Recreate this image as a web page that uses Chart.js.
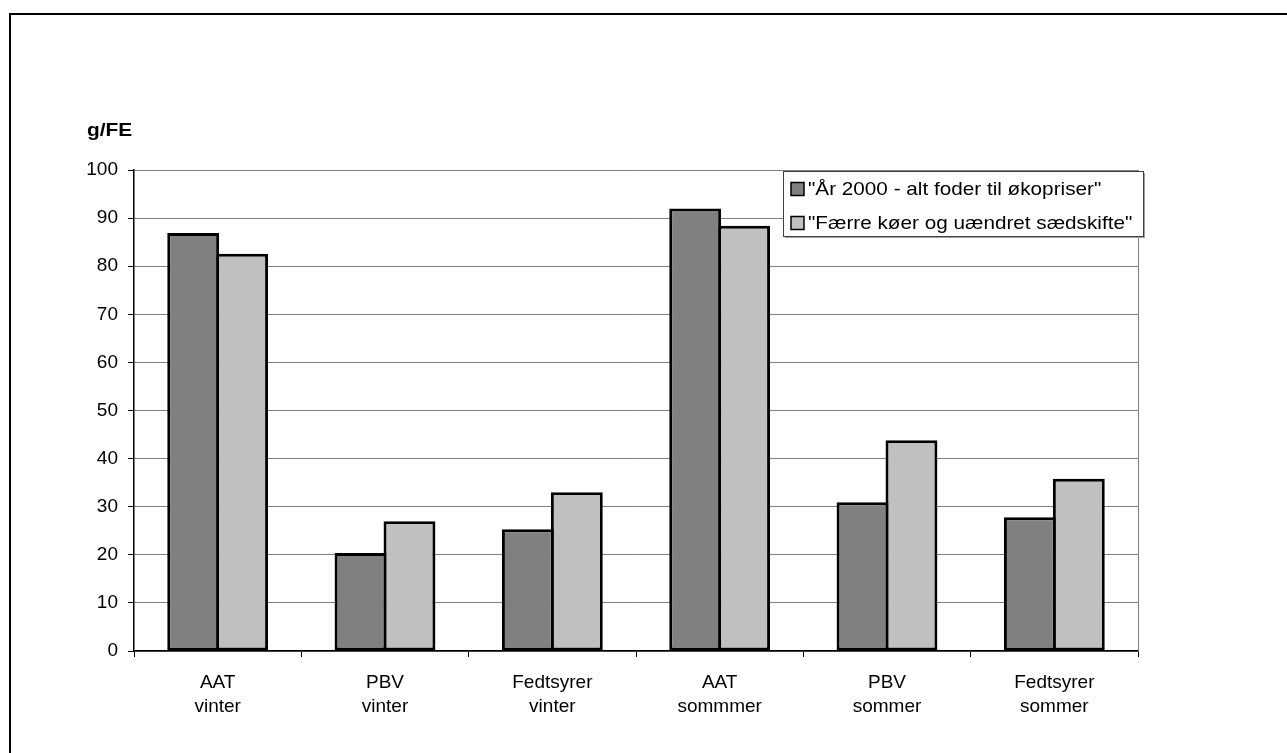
<!DOCTYPE html>
<html>
<head>
<meta charset="utf-8">
<script src="https://cdn.jsdelivr.net/npm/chart.js@4/dist/chart.umd.min.js"></script>
<style>
  html, body { margin: 0; padding: 0; background: #fff; }
  canvas { display: block; }
</style>
</head>
<body>
<canvas id="chart" width="1287" height="753"></canvas>
<script>
// categories (two-line labels) and the two scenarios
const categories = [
  ['AAT', 'vinter'],
  ['PBV', 'vinter'],
  ['Fedtsyrer', 'vinter'],
  ['AAT', 'sommmer'],
  ['PBV', 'sommer'],
  ['Fedtsyrer', 'sommer'],
];
const seriesNames = [
  '"År 2000 - alt foder til økopriser"',
  '"Færre køer og uændret sædskifte"',
];
const ar2000 = [86.9, 20.4, 25.3, 92.0, 30.9, 27.8];
const faerreKoer = [82.6, 27.0, 33.0, 88.4, 43.8, 35.8];
const yTicks = [0, 10, 20, 30, 40, 50, 60, 70, 80, 90, 100];
const unitLabel = 'g/FE';

const FONT = '"Liberation Sans", Arial, sans-serif';

// outer frame, unit label, right border of plot and the legend box
const decorations = {
  id: 'decorations',
  beforeDraw(chart) {
    const ctx = chart.ctx;
    ctx.save();
    ctx.fillStyle = '#fff';
    ctx.fillRect(0, 0, chart.width, chart.height);
    ctx.restore();
  },
  afterDatasetsDraw(chart) {
    const ctx = chart.ctx;
    const area = chart.chartArea;
    ctx.save();
    // right edge of plot area
    ctx.strokeStyle = '#808080';
    ctx.lineWidth = 1;
    ctx.beginPath();
    ctx.moveTo(area.right + 0.5, area.top);
    ctx.lineTo(area.right + 0.5, area.bottom);
    ctx.stroke();
    ctx.restore();
  },
  afterDraw(chart) {
    const ctx = chart.ctx;
    ctx.save();
    // frame (right/bottom sides fall outside the picture)
    ctx.strokeStyle = '#000';
    ctx.lineWidth = 2;
    ctx.strokeRect(10, 14, chart.width + 20, chart.height + 20);

    // unit label
    ctx.fillStyle = '#000';
    ctx.font = 'bold 19px ' + FONT;
    ctx.textAlign = 'left';
    ctx.textBaseline = 'alphabetic';
    ctx.save();
    ctx.translate(87, 136);
    ctx.scale(1.1, 1);
    ctx.fillText(unitLabel, 0, 0);
    ctx.restore();

    // legend
    const lx = 783, ly = 171, lw = 360, lh = 65;
    ctx.fillStyle = '#a0a0a0';
    ctx.fillRect(lx + 2, ly + 2, lw, lh);
    ctx.fillStyle = '#fff';
    ctx.fillRect(lx, ly, lw, lh);
    ctx.strokeStyle = '#404040';
    ctx.lineWidth = 1;
    ctx.strokeRect(lx + 0.5, ly + 0.5, lw, lh);
    ctx.font = '19px ' + FONT;
    ctx.textBaseline = 'middle';
    chart.data.datasets.forEach((ds, i) => {
      const cy = 189 + i * 34;
      ctx.fillStyle = ds.backgroundColor;
      ctx.fillRect(791, cy - 6.5, 13, 13);
      ctx.strokeStyle = '#000';
      ctx.lineWidth = 1.5;
      ctx.strokeRect(791, cy - 6.5, 13, 13);
      ctx.fillStyle = '#000';
      ctx.save();
      ctx.translate(808, cy + 1);
      ctx.scale(1.09, 1);
      ctx.fillText(ds.label, 0, 0);
      ctx.restore();
    });
    ctx.restore();
  },
};

new Chart(document.getElementById('chart'), {
  type: 'bar',
  data: {
    labels: categories,
    datasets: [
      {
        label: seriesNames[0],
        data: ar2000,
        backgroundColor: '#808080',
        borderColor: '#000',
        borderWidth: 3,
        borderSkipped: false,
      },
      {
        label: seriesNames[1],
        data: faerreKoer,
        backgroundColor: '#c0c0c0',
        borderColor: '#000',
        borderWidth: 3,
        borderSkipped: false,
      },
    ],
  },
  options: {
    responsive: false,
    animation: false,
    devicePixelRatio: 1,
    layout: { padding: { left: 0, top: 170, right: 149, bottom: 0 } },
    datasets: {
      bar: { categoryPercentage: 0.585, barPercentage: 1.06 },
    },
    plugins: {
      legend: { display: false },
      title: { display: false },
      tooltip: { enabled: false },
    },
    scales: {
      x: {
        grid: {
          drawOnChartArea: false,
          drawTicks: true,
          tickLength: 6,
          color: '#000',
          offset: true,
        },
        border: { display: true, color: '#000', width: 1.5 },
        ticks: {
          color: '#000',
          padding: 13,
          maxRotation: 0,
          autoSkip: false,
          font: { family: FONT, size: 19, lineHeight: 1.3 },
        },
        afterFit(scale) { scale.height = 753 - 651; },
      },
      y: {
        min: 0,
        max: 100,
        afterBuildTicks(scale) { scale.ticks = yTicks.map(v => ({ value: v })); },
        grid: {
          color: '#808080',
          lineWidth: 1,
          tickLength: 6,
          tickColor: '#000',
        },
        border: { display: true, color: '#000', width: 1.5 },
        ticks: {
          color: '#000',
          padding: 10,
          font: { family: FONT, size: 19 },
        },
        afterFit(scale) { scale.width = 134; },
      },
    },
  },
  plugins: [decorations],
});
</script>
</body>
</html>
